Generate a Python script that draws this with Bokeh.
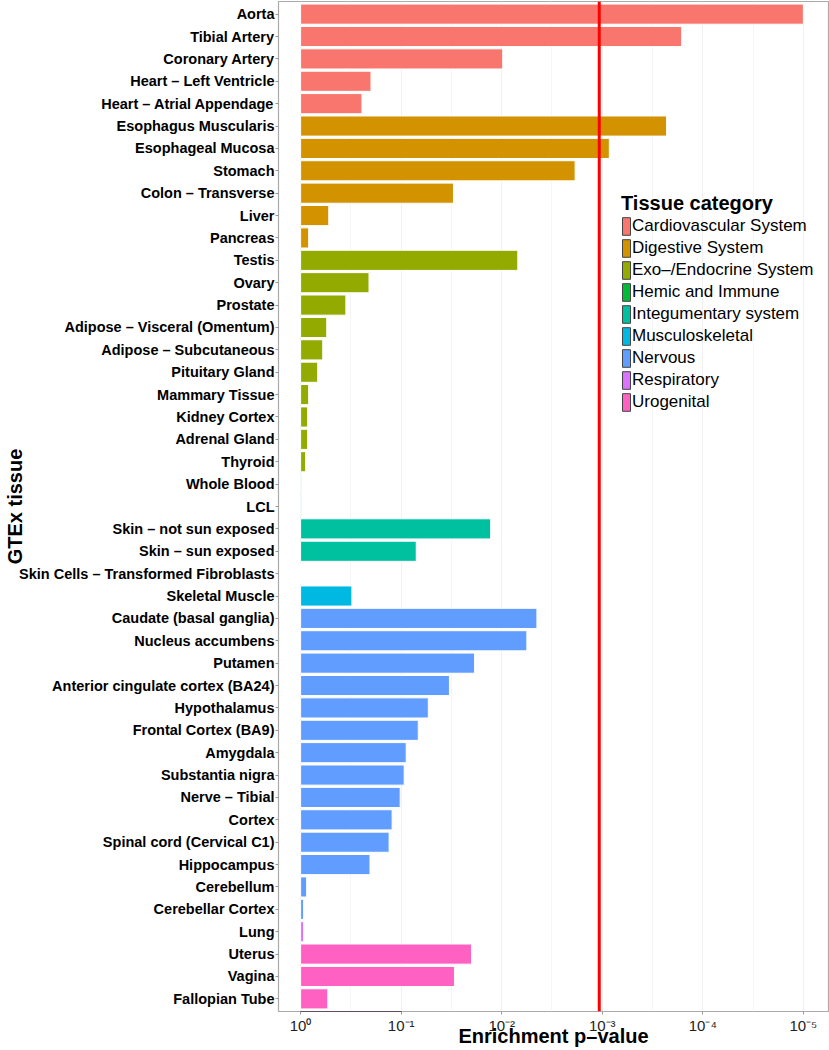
import math
from bokeh.plotting import figure
from bokeh.models import (Range1d, FixedTicker, Span, Legend, LegendItem,
                          ColumnDataSource)
from bokeh.embed import file_html
from bokeh.resources import INLINE

tissues = ["Aorta", "Tibial Artery", "Coronary Artery", "Heart – Left Ventricle",
           "Heart – Atrial Appendage", "Esophagus Muscularis", "Esophageal Mucosa",
           "Stomach", "Colon – Transverse", "Liver", "Pancreas", "Testis", "Ovary",
           "Prostate", "Adipose – Visceral (Omentum)", "Adipose – Subcutaneous",
           "Pituitary Gland", "Mammary Tissue", "Kidney Cortex", "Adrenal Gland",
           "Thyroid", "Whole Blood", "LCL", "Skin – not sun exposed",
           "Skin – sun exposed", "Skin Cells – Transformed Fibroblasts",
           "Skeletal Muscle", "Caudate (basal ganglia)", "Nucleus accumbens",
           "Putamen", "Anterior cingulate cortex (BA24)", "Hypothalamus",
           "Frontal Cortex (BA9)", "Amygdala", "Substantia nigra", "Nerve – Tibial",
           "Cortex", "Spinal cord (Cervical C1)", "Hippocampus", "Cerebellum",
           "Cerebellar Cortex", "Lung", "Uterus", "Vagina", "Fallopian Tube"]

tissue_category = (["Cardiovascular System"] * 5 + ["Digestive System"] * 6 +
                   ["Exo–/Endocrine System"] * 10 + ["Hemic and Immune"] * 2 +
                   ["Integumentary system"] * 3 + ["Musculoskeletal"] * 1 +
                   ["Nervous"] * 14 + ["Respiratory"] * 1 + ["Urogenital"] * 3)

# -log10(enrichment p-value)
neg_log10_p = [5.00, 3.79, 2.01, 0.70, 0.61,
               3.64, 3.07, 2.73, 1.52, 0.28, 0.08,
               2.16, 0.68, 0.45, 0.26, 0.22, 0.17, 0.08, 0.07, 0.07, 0.05,
               0.01, 0.01,
               1.89, 1.15, 0.00,
               0.51,
               2.35, 2.25, 1.73, 1.48, 1.27, 1.17, 1.05, 1.03, 0.99, 0.91, 0.88,
               0.69, 0.06, 0.03,
               0.03,
               1.70, 1.53, 0.27]

categories = ["Cardiovascular System", "Digestive System", "Exo–/Endocrine System",
              "Hemic and Immune", "Integumentary system", "Musculoskeletal",
              "Nervous", "Respiratory", "Urogenital"]
category_colors = ["#F8766D", "#D39200", "#93AA00", "#00BA38", "#00C19F",
                   "#00B9E3", "#619CFF", "#DB72FB", "#FF61C3"]

x_ticks = [0, 1, 2, 3, 4, 5]
x_tick_labels = ["10⁰", "10⁻¹", "10⁻²", "10⁻³", "10⁻⁴", "10⁻⁵"]
threshold = 2.97

FONT = "Liberation Sans"
n = len(tissues)
cmap = dict(zip(categories, category_colors))

src = ColumnDataSource(dict(
    y=list(range(n)),
    right=neg_log10_p,
    color=[cmap[c] for c in tissue_category],
))

p = figure(width=829, height=1050, output_backend="svg", toolbar_location=None,
           title=None,
           x_range=Range1d(-0.22, 5.25),
           y_range=Range1d(n - 1 + 0.565, -0.565),
           min_border_left=278, min_border_right=1, min_border_top=1,
           min_border_bottom=39)
p.background_fill_color = "white"
p.border_fill_color = "white"
p.outline_line_color = "#AAAAAA"
p.outline_line_width = 1.2

p.hbar(y="y", left=0, right="right", height=0.9, source=src,
       fill_color="color", line_color="white", line_width=1)

# grid
p.xaxis.ticker = FixedTicker(ticks=x_ticks, minor_ticks=[0.5, 1.5, 2.5, 3.5, 4.5])
p.xgrid.grid_line_color = "#F0F0F0"
p.xgrid.minor_grid_line_color = "#F5F5F5"
p.ygrid.grid_line_color = None

# x axis
p.xaxis.major_label_overrides = {t: l for t, l in zip(x_ticks, x_tick_labels)}
p.xaxis.axis_line_color = None
p.xaxis.major_tick_line_color = "#999999"
p.xaxis.major_tick_out = 3
p.xaxis.major_tick_in = 0
p.xaxis.minor_tick_line_color = None
p.xaxis.major_label_text_font = FONT
p.xaxis.major_label_text_font_size = "15px"
p.xaxis.major_label_text_color = "#222222"
p.xaxis.major_label_standoff = 1
p.xaxis.axis_label = "Enrichment p–value"
p.xaxis.axis_label_text_font = FONT
p.xaxis.axis_label_text_font_style = "bold"
p.xaxis.axis_label_text_font_size = "20px"
p.xaxis.axis_label_text_color = "black"
p.xaxis.axis_label_standoff = -12

# y axis
p.yaxis.ticker = FixedTicker(ticks=list(range(n)))
p.yaxis.major_label_overrides = {i: t for i, t in enumerate(tissues)}
p.yaxis.axis_line_color = None
p.yaxis.major_tick_line_color = "#999999"
p.yaxis.major_tick_out = 3
p.yaxis.major_tick_in = 0
p.yaxis.minor_tick_line_color = None
p.yaxis.major_label_text_font = FONT
p.yaxis.major_label_text_font_style = "bold"
p.yaxis.major_label_text_font_size = "14.5px"
p.yaxis.major_label_text_color = "black"
p.yaxis.major_label_standoff = 1
p.yaxis.axis_label = "GTEx tissue"
p.yaxis.axis_label_text_font = FONT
p.yaxis.axis_label_text_font_style = "bold"
p.yaxis.axis_label_text_font_size = "20px"
p.yaxis.axis_label_text_color = "black"
p.yaxis.axis_label_standoff = -10

# significance threshold
p.add_layout(Span(location=threshold, dimension="height", line_color="#FF0000",
                  line_width=3))

# legend (proxy renderers placed outside the visible y range)
items = []
for cat, col in zip(categories, category_colors):
    r = p.hbar(y=[n + 100], left=[0], right=[1], height=0.9, fill_color=col,
               line_color="#444444", line_width=1)
    items.append(LegendItem(label=cat, renderers=[r]))
legend = Legend(items=items, location=(343, 598), title="Tissue category",
                title_text_font=FONT, title_text_font_style="bold",
                title_text_font_size="20px", title_text_color="black",
                title_standoff=0,
                label_text_font=FONT, label_text_font_size="17px",
                label_text_color="black",
                glyph_width=10, glyph_height=22, label_height=22,
                label_standoff=1, spacing=0, padding=0, margin=0,
                border_line_color=None, background_fill_alpha=0)
p.add_layout(legend)

open("out.html", "w").write(file_html(p, INLINE))
